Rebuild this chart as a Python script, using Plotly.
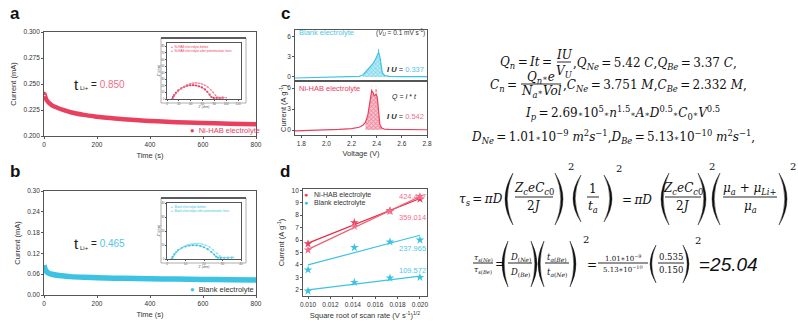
import numpy as np
import plotly.graph_objects as go

W, H = 798, 323
RED = "#e8405f"
RED_LIGHT = "#f07089"
CYAN = "#3cc3e3"
CYAN_TXT = "#52c6e6"
DARK = "#333333"
SANS = "Liberation Sans"
SERIF = "DejaVu Serif"

# ---- panel a: chronoamperometry, Ni-HAB electrolyte ----
time_a = [0, 2, 5, 10, 20, 30, 50, 75, 100, 150, 200, 250, 300, 400, 500, 600, 700, 800]
cur_a = [0.2395, 0.2405, 0.2375, 0.2345, 0.2315, 0.2295, 0.2272, 0.2248, 0.2228, 0.2203,
         0.2186, 0.2172, 0.2162, 0.2145, 0.2133, 0.2125, 0.2118, 0.2113]

# ---- panel b: chronoamperometry, blank electrolyte ----
time_b = [0, 2, 5, 10, 20, 30, 50, 75, 100, 150, 200, 300, 400, 500, 600, 700, 800]
cur_b = [0.086, 0.080, 0.073, 0.067, 0.062, 0.060, 0.057, 0.055, 0.053, 0.051, 0.050,
         0.048, 0.047, 0.046, 0.045, 0.044, 0.043]

# ---- insets: impedance before / after potentiostatic tests ----
eis_a_before_x = [9, 10, 12, 15, 19, 24, 29, 34, 39, 44, 49, 54, 59, 64, 68, 72, 75, 79, 84, 89, 94]
eis_a_before_y = [0, 3, 6, 9.5, 13, 16, 18.5, 20, 20.8, 21, 20.5, 19.3, 17.5, 14.5, 11, 6.5, 3,
                  1.6, 1.8, 1.7, 2]
eis_a_after_x = [10, 12, 15, 19, 24, 29, 34, 39, 44, 49, 54, 59, 64, 69, 74, 78, 82, 86, 90, 95, 100]
eis_a_after_y = [0, 4, 8, 12, 16, 19, 21.5, 23.2, 24.2, 24.5, 24, 22.8, 20.8, 18, 14, 10, 5.5,
                 2.5, 2, 2.2, 2]
eis_b_before_x = [2.5, 3, 4, 5, 6, 8, 10, 12, 14, 16, 18, 20, 22, 24, 25.5, 26.5, 27.5, 29, 31, 33, 35]
eis_b_before_y = [0, 1.5, 3.5, 5, 6.3, 8, 9, 9.6, 9.9, 9.8, 9.3, 8.4, 7, 5, 3.2, 1.8, 1, 0.8,
                  0.9, 0.9, 1]
eis_b_after_x = [3, 4, 5, 7, 9, 11, 13, 15, 17, 19, 21, 23, 25, 27, 28.5, 29.5, 31, 33, 35, 36]
eis_b_after_y = [0, 2.5, 4.5, 7, 8.8, 10, 10.7, 11, 11, 10.6, 9.8, 8.5, 6.5, 4, 2.2, 1.3, 1,
                 1.2, 1.1, 1.2]

# ---- panel c: slow-scan oxidation peaks ----
v_blank = [1.75, 1.9, 2.0, 2.1, 2.2, 2.26, 2.29, 2.31, 2.33, 2.35, 2.37, 2.39, 2.405, 2.415,
           2.425, 2.435, 2.445, 2.465, 2.5, 2.6, 2.7, 2.8]
i_blank = [-0.15, -0.1, -0.05, 0.0, 0.05, 0.1, 0.3, 0.7, 1.2, 1.6, 2.0, 2.6, 3.3, 3.7, 3.0,
           1.6, 0.6, 0.2, 0.1, 0.05, 0.05, 0.05]
v_nihab = [1.75, 1.9, 2.0, 2.1, 2.2, 2.26, 2.29, 2.31, 2.33, 2.34, 2.35, 2.36, 2.37, 2.38,
           2.39, 2.395, 2.405, 2.415, 2.425, 2.44, 2.46, 2.5, 2.6, 2.7, 2.8]
i_nihab = [-0.1, -0.05, 0.0, 0.1, 0.2, 0.4, 0.7, 1.1, 2.2, 3.4, 4.8, 5.6, 5.4, 4.9, 5.0, 5.2,
           4.6, 2.5, 0.8, 0.3, 0.15, 0.1, 0.05, 0.05, 0.05]
blank_fill_range = (2.29, 2.465)
nihab_fill_range = (2.30, 2.44)
blank_peak_v, blank_peak_tops = [2.415], (3.7, 4.4)
nihab_peak_v, nihab_peak_tops = [2.36, 2.395], (5.4, 6.3)

# ---- panel d: peak current vs square root of scan rate ----
sqrt_rate = [0.010, 0.01414, 0.01732, 0.020]
pk_nihab_1 = [5.7, 7.4, 8.35, 9.3]
pk_nihab_2 = [5.2, 7.1, 8.3, 9.5]
pk_blank_1 = [3.6, 5.4, 5.85, 6.0]
pk_blank_2 = [1.9, 2.6, 2.95, 3.0]
slopes = [359.014, 424.417, 237.965, 109.572]
intercepts = [2.16, 1.006, 1.62, 0.904]


def px(x):
    return x / W


def py(y):
    return 1 - y / H


def dom_x(a, b):
    return [px(a), px(b)]


def dom_y(top, bottom):
    return [py(bottom), py(top)]


fig = go.Figure()
ann = []
shapes = []

tickfont = dict(family=SANS, size=6.5, color=DARK)
titlefont = dict(family=SANS, size=7.5, color=DARK)


def axis(domain, rng, anchor, dtick=None, tickvals=None, title=None, showlabels=True,
         ticks="outside", font=tickfont, tfont=titlefont, standoff=3, ticklen=2, fmt=None):
    d = dict(domain=domain, range=rng, anchor=anchor, showline=True, linecolor="#555",
             linewidth=0.8, mirror=True, ticks=ticks if ticks else "", ticklen=ticklen,
             tickcolor="#555", tickwidth=0.8, showgrid=False, zeroline=False,
             tickfont=font, showticklabels=showlabels, automargin=False)
    if dtick is not None:
        d["dtick"] = dtick
        d["tick0"] = 0
    if tickvals is not None:
        d["tickvals"] = tickvals
    if fmt:
        d["tickformat"] = fmt
    if title:
        d["title"] = dict(text=title, font=tfont, standoff=standoff)
    return d


# main chronoamperometry axes
fig.add_trace(go.Scatter(x=time_a, y=cur_a, mode="lines", line=dict(color=RED, width=4.5,
                                                                      shape="spline"),
                         xaxis="x", yaxis="y", showlegend=False))
fig.add_trace(go.Scatter(x=time_b, y=cur_b, mode="lines", line=dict(color=CYAN, width=5.5,
                                                                      shape="spline"),
                         xaxis="x2", yaxis="y2", showlegend=False))

# insets
for xs, ys, col, sz, ax_ in [
    (eis_a_before_x, eis_a_before_y, RED, 2.2, ("x3", "y3")),
    (eis_a_after_x, eis_a_after_y, RED_LIGHT, 1.6, ("x3", "y3")),
    (eis_b_before_x, eis_b_before_y, CYAN, 2.2, ("x4", "y4")),
    (eis_b_after_x, eis_b_after_y, "#7fd6ee", 1.6, ("x4", "y4")),
]:
    fig.add_trace(go.Scatter(x=xs, y=ys, mode="lines+markers",
                             line=dict(color=col, width=0.6, shape="spline"),
                             marker=dict(color=col, size=sz),
                             xaxis=ax_[0], yaxis=ax_[1], showlegend=False))


def window(xs, ys, lo, hi):
    pts = [(a, b) for a, b in zip(xs, ys) if lo <= a <= hi]
    return [p[0] for p in pts], [max(p[1], 0) for p in pts]


# panel c curves with hatched peak areas
bx, by = window(v_blank, i_blank, *blank_fill_range)
fig.add_trace(go.Scatter(x=bx, y=by, mode="lines", line=dict(width=0), fill="tozeroy",
                         fillcolor="rgba(60,195,227,0.35)",
                         fillpattern=dict(shape="x", fgcolor=CYAN, bgcolor="rgba(160,225,242,0.6)",
                                          size=3, solidity=0.5),
                         xaxis="x5", yaxis="y5", showlegend=False))
fig.add_trace(go.Scatter(x=v_blank, y=i_blank, mode="lines", line=dict(color=CYAN, width=1.2),
                         xaxis="x5", yaxis="y5", showlegend=False))
for v in blank_peak_v:
    fig.add_trace(go.Scatter(x=[v, v], y=list(blank_peak_tops), mode="lines",
                             line=dict(color=CYAN, width=1, dash="dot"),
                             xaxis="x5", yaxis="y5", showlegend=False))

nx, ny = window(v_nihab, i_nihab, *nihab_fill_range)
fig.add_trace(go.Scatter(x=nx, y=ny, mode="lines", line=dict(width=0), fill="tozeroy",
                         fillcolor="rgba(232,64,95,0.35)",
                         fillpattern=dict(shape="x", fgcolor=RED, bgcolor="rgba(245,170,185,0.6)",
                                          size=3, solidity=0.5),
                         xaxis="x6", yaxis="y6", showlegend=False))
fig.add_trace(go.Scatter(x=v_nihab, y=i_nihab, mode="lines", line=dict(color=RED, width=1.2),
                         xaxis="x6", yaxis="y6", showlegend=False))
for v in nihab_peak_v:
    fig.add_trace(go.Scatter(x=[v, v], y=list(nihab_peak_tops), mode="lines",
                             line=dict(color=RED, width=1, dash="dot"),
                             xaxis="x6", yaxis="y6", showlegend=False))

# panel d: points and fitted lines (line = intercept + slope * x)
xfit = np.array([sqrt_rate[0], sqrt_rate[-1]])
d_series = [
    (pk_nihab_1, RED, "#e8283f", slopes[0], intercepts[0]),
    (pk_nihab_2, RED_LIGHT, "#f05a72", slopes[1], intercepts[1]),
    (pk_blank_1, CYAN, "#3cc3e3", slopes[2], intercepts[2]),
    (pk_blank_2, CYAN, "#3cc3e3", slopes[3], intercepts[3]),
]
for ys, mcol, lcol, m, b in d_series:
    fig.add_trace(go.Scatter(x=xfit, y=b + m * xfit, mode="lines", line=dict(color=lcol, width=1.2),
                             xaxis="x7", yaxis="y7", showlegend=False))
    fig.add_trace(go.Scatter(x=sqrt_rate, y=ys, mode="markers",
                             marker=dict(color=mcol, size=6.5, symbol="star"),
                             xaxis="x7", yaxis="y7", showlegend=False))

layout = dict(
    width=W, height=H, margin=dict(l=0, r=0, t=0, b=0),
    paper_bgcolor="white", plot_bgcolor="white", showlegend=False,
    font=dict(family=SANS, color=DARK),
)
layout["xaxis"] = axis(dom_x(44, 256), [0, 800], "y", dtick=200, title="Time (s)", standoff=6)
layout["yaxis"] = axis(dom_y(32, 136), [0.2, 0.3], "x", dtick=0.025, fmt=".3f",
                       title="Current (mA)", standoff=5)
layout["xaxis2"] = axis(dom_x(44, 256), [0, 800], "y2", dtick=200, title="Time (s)", standoff=6)
layout["yaxis2"] = axis(dom_y(191, 295), [0, 0.3], "x2", dtick=0.06, fmt=".2f",
                        title="Current (mA)", standoff=5)

inset_tick = dict(family=SANS, size=3, color="#555")
inset_title = dict(family=SANS, size=3, color="#555")
layout["xaxis3"] = axis(dom_x(167, 241), [0, 125], "y3", dtick=20, title="Z' (ohm)",
                        font=inset_tick, tfont=inset_title, standoff=1, ticklen=1)
layout["yaxis3"] = axis(dom_y(43, 99), [0, 85], "x3", dtick=10, title="-Z'' (ohm)",
                        font=inset_tick, tfont=inset_title, standoff=1, ticklen=1)
layout["xaxis4"] = axis(dom_x(167, 241), [0, 40], "y4", dtick=10, title="Z' (ohm)",
                        font=inset_tick, tfont=inset_title, standoff=1, ticklen=1)
layout["yaxis4"] = axis(dom_y(203, 259), [0, 40], "x4", dtick=10, title="-Z'' (ohm)",
                        font=inset_tick, tfont=inset_title, standoff=1, ticklen=1)

layout["xaxis5"] = axis(dom_x(295, 427), [1.75, 2.8], "y5", dtick=0.2, showlabels=False,
                        ticks=None)
layout["yaxis5"] = axis(dom_y(30, 81), [-0.6, 7.0], "x5", tickvals=[0, 3, 6])
layout["xaxis6"] = axis(dom_x(295, 427), [1.75, 2.8], "y6", tickvals=[1.8, 2.0, 2.2, 2.4, 2.6, 2.8],
                        fmt=".1f", title="Voltage (V)", standoff=5)
layout["yaxis6"] = axis(dom_y(81, 135), [-0.7, 7.0], "x6", tickvals=[0, 3, 6])

layout["xaxis7"] = axis(dom_x(303, 427), [0.00955, 0.02063], "y7",
                        tickvals=[0.010, 0.012, 0.014, 0.016, 0.018, 0.020], fmt=".3f",
                        title="Square root of scan rate (V s<sup>-1</sup>)<sup>1/2</sup>", standoff=6)
layout["yaxis7"] = axis(dom_y(189, 296), [1.5, 10.1], "x7", dtick=1,
                        title="Current (A g<sup>-1</sup>)", standoff=5)


def T(x, y, s, size=12, anchor="left", family=SERIF, color="#111", yanchor="middle"):
    ann.append(dict(x=px(x), y=py(y), xref="paper", yref="paper", text=s, showarrow=False,
                    xanchor=anchor, yanchor=yanchor, borderpad=0,
                    font=dict(size=size, family=family, color=color)))


def hline(x0, x1, y, color="#111", width=0.9):
    shapes.append(dict(type="line", xref="paper", yref="paper", x0=px(x0), x1=px(x1),
                       y0=py(y), y1=py(y), line=dict(color=color, width=width)))


def frac(xc, ybar, num, den, w, size, y_num, y_den):
    T(xc, y_num, num, size, "center")
    T(xc, y_den, den, size, "center")
    hline(xc - w / 2, xc + w / 2, ybar)


def paren(x0, x1, ytop, ybot, side="(", thick=2.2):
    # filled crescent: thin at the ends, thick in the middle
    ym = (ytop + ybot) / 2
    if side == "(":
        end, bul = x1, x0
        inner = bul + thick
    else:
        end, bul = x0, x1
        inner = bul - thick
    c_out = 2 * bul - end
    c_in = 2 * inner - end
    path = (f"M {px(end)},{py(ytop)} Q {px(c_out)},{py(ym)} {px(end)},{py(ybot)} "
            f"Q {px(c_in)},{py(ym)} {px(end)},{py(ytop)} Z")
    shapes.append(dict(type="path", xref="paper", yref="paper", path=path,
                       fillcolor="#111", line=dict(width=0.4, color="#111")))


STAR = "<span style='font-size:8px'>∗</span>"
EQ = "\u2009=\u2009"

# panel letters
for lx, ly, s in [(15, 13, "a"), (15, 171, "b"), (285, 13, "c"), (285, 171, "d")]:
    T(lx, ly, f"<b>{s}</b>", 17, "center", SANS, "#111")

# transference numbers
T(73, 84, "t", 15, "left", SANS, "#222")
T(79, 88, "Li+", 6, "left", SANS, "#222")
T(90, 84, "= <span style='color:%s'>0.850</span>" % RED_LIGHT, 10, "left", SANS, "#222")
T(73, 244, "t", 15, "left", SANS, "#222")
T(79, 248, "Li+", 6, "left", SANS, "#222")
T(90, 244, "= <span style='color:%s'>0.465</span>" % CYAN_TXT, 10, "left", SANS, "#222")

# legends of a, b, d
T(189, 130, "<span style='color:%s'>●</span>  Ni-HAB electrolyte" % RED, 7.5, "left", SANS, RED)
T(189, 289, "<span style='color:%s'>●</span>  Blank electrolyte" % CYAN, 7.5, "left", SANS, "#333")
T(303, 195, "<span style='color:%s'>●</span>   Ni-HAB electrolyte" % RED, 7, "left", SANS, "#333")
T(303, 203, "<span style='color:%s'>●</span>   Blank electrolyte" % CYAN, 7, "left", SANS, "#333")

# inset frames and legends
for top, bot in [(38, 103), (198, 263)]:
    shapes.append(dict(type="rect", xref="paper", yref="paper", x0=px(161), x1=px(246),
                       y0=py(bot), y1=py(top), line=dict(color="#999", width=0.8)))
    hline(161, 246, top, "#333", 1.6)
T(170, 47, "●  Ni-HAB electrolyte-before", 3, "left", SANS, RED)
T(170, 51, "●  Ni-HAB electrolyte-after potentiostatic tests", 3, "left", SANS, RED)
T(170, 207, "●  Blank electrolyte-before", 3, "left", SANS, CYAN)
T(170, 211, "●  Blank electrolyte-after potentiostatic tests", 3, "left", SANS, CYAN)

# panel c labels
T(298, 33, "Blank electrolyte", 7.5, "left", SANS, CYAN_TXT)
T(426, 33, "(<i>V<sub>U</sub></i> = 0.1 mV s<sup>-1</sup>)", 6.5, "right", SANS, "#333")
T(425, 69, "<b><i>I U</i></b> = <span style='color:%s'>0.337</span>" % CYAN_TXT, 7.5, "right", SANS, "#222")
T(298, 88, "Ni-HAB electrolyte", 7.5, "left", SANS, RED)
T(418, 97, "<i>Q</i> = <i>I</i> * <i>t</i>", 7, "right", SANS, "#222")
T(425, 117, "<b><i>I U</i></b> = <span style='color:%s'>0.542</span>" % RED_LIGHT, 7.5, "right", SANS, "#222")

# panel d slope labels
for yy, val, col in [(196, slopes[1], RED_LIGHT), (217, slopes[0], RED_LIGHT),
                     (248, slopes[2], CYAN_TXT), (270, slopes[3], CYAN_TXT)]:
    T(398, yy, f"{val:.3f}", 7.5, "left", SANS, col)

# c y-axis title spanning both stacked panels
ann.append(dict(x=px(283), y=py(82), xref="paper", yref="paper", text="Current (A g<sup>-1</sup>)",
                showarrow=False, textangle=-90, font=titlefont))

# ---- equations ----
S = 12
T(499, 63, f"<i>Q</i><sub><i>n</i></sub>{EQ}<i>It</i>{EQ}", S)
frac(564, 62, "<i>IU</i>", "<i>V</i><sub><i>U</i></sub>", 14, S, 55, 72)
T(572, 64, f",<i>Q</i><sub><i>Ne</i></sub>{EQ}5.42 <i>C</i>,<i>Q</i><sub><i>Be</i></sub>{EQ}3.37 <i>C</i>,", S)

T(489, 86, f"<i>C</i><sub><i>n</i></sub>{EQ}", S)
frac(541, 84, f"<i>Q</i><sub><i>n</i></sub>{STAR}<i>e</i>", f"<i>N</i><sub><i>a</i></sub>{STAR}<i>Vol</i>",
     40, S, 78, 92)
T(562, 86, f",<i>C</i><sub><i>Ne</i></sub>{EQ}3.751 <i>M</i>,<i>C</i><sub><i>Be</i></sub>{EQ}2.332 <i>M</i>,", S)

T(622, 113, f"<i>I</i><sub><i>p</i></sub>{EQ}2.69{STAR}10<sup>5</sup>{STAR}<i>n</i><sup>1.5</sup>{STAR}<i>A</i>{STAR}"
            f"<i>D</i><sup>0.5</sup>{STAR}<i>C</i><sub>0</sub>{STAR}<i>V</i><sup>0.5</sup>", S, "center")
T(613, 137, f"<i>D</i><sub><i>Ne</i></sub>{EQ}1.01{STAR}10<sup>−9</sup> <i>m</i><sup>2</sup><i>s</i><sup>−1</sup>,"
            f"<i>D</i><sub><i>Be</i></sub>{EQ}5.13{STAR}10<sup>−10</sup> <i>m</i><sup>2</sup><i>s</i><sup>−1</sup>,",
  S, "center")

ZC = "<i>Z</i><sub><i>c</i></sub><i>eC</i><sub><i>c</i>0</sub>"
T(458, 200, f"<i>τ</i><sub><i>s</i></sub>{EQ}<i>πD</i>", S)
paren(505, 513, 173, 225, "(")
frac(534, 197, ZC, "2<i>J</i>", 38, S, 189, 206)
paren(555, 563, 173, 225, ")")
T(567, 166, "2", 10)
paren(573, 581, 175, 222, "(")
frac(593, 197, "1", "<i>t</i><sub><i>a</i></sub>", 12, S, 189, 207)
paren(604, 612, 175, 222, ")")
T(615, 168, "2", 10)
T(621, 200, "=\u2009<i>πD</i>", S)
paren(661, 669, 173, 225, "(")
frac(683, 197, ZC, "2<i>J</i>", 36, S, 189, 206)
paren(698, 706, 173, 225, ")")
T(708, 166, "2", 10)
paren(712, 720, 173, 225, "(")
frac(750, 197, "<i>μ</i><sub><i>a</i></sub> + <i>μ</i><sub><i>Li</i>+</sub>",
     "<i>μ</i><sub><i>a</i></sub>", 54, S, 189, 207)
paren(779, 787, 173, 225, ")")
T(789, 166, "2", 10)

frac(483, 263, "<i>τ</i><sub><i>s</i>(<i>Ne</i>)</sub>", "<i>τ</i><sub><i>s</i>(<i>Be</i>)</sub>", 20, 7.5, 258, 270)
T(494, 264, "=", S)
paren(502, 508, 241, 287, "(")
frac(520, 263, "<i>D</i><sub>(<i>Ne</i>)</sub>", "<i>D</i><sub>(<i>Be</i>)</sub>", 24, 8.5, 257, 272)
paren(531, 537, 241, 287, ")")
paren(538, 544, 241, 287, "(")
frac(557, 263, "<i>t</i><sub><i>a</i>(<i>Be</i>)</sub>", "<i>t</i><sub><i>a</i>(<i>Ne</i>)</sub>", 24, 8.5, 257, 272)
paren(570, 576, 241, 287, ")")
T(582, 239, "2", 10)
T(586, 265, "=", S)
frac(623, 263, "1.01∗10<sup>−9</sup>", "5.13∗10<sup>−10</sup>", 50, 7, 258, 269)
paren(650, 656, 245, 283, "(", 1.8)
frac(671, 263, "0.535", "0.150", 26, 8.5, 257, 270)
paren(683, 689, 245, 283, ")", 1.8)
T(694, 241, "2", 10)
T(698, 264, "=<i>25.04</i>", 19, "left", SANS, "#111")

layout["annotations"] = ann
layout["shapes"] = shapes
fig.update_layout(**layout)
fig.write_html("out.html")
